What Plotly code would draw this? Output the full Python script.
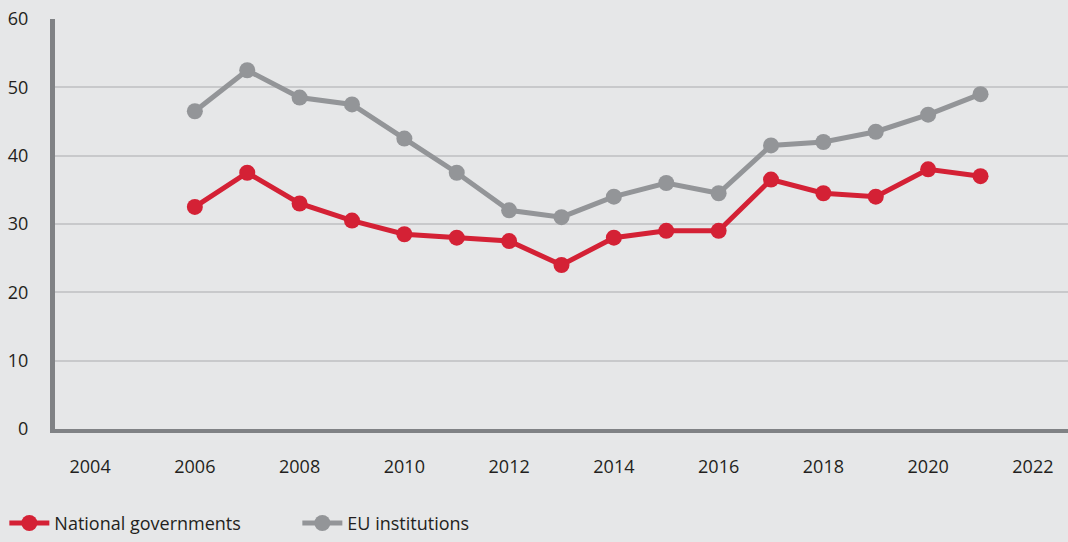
import plotly.graph_objects as go

years = list(range(2006, 2022))
national_governments = [32.5, 37.5, 33, 30.5, 28.5, 28, 27.5, 24, 28, 29, 29, 36.5, 34.5, 34, 38, 37]
eu_institutions = [46.5, 52.5, 48.5, 47.5, 42.5, 37.5, 32, 31, 34, 36, 34.5, 41.5, 42, 43.5, 46, 49]

x_ticks = list(range(2004, 2023, 2))
y_ticks = [0, 10, 20, 30, 40, 50, 60]

RED = "#d42135"
GREY = "#939598"
BG = "#e6e7e8"

fig = go.Figure()
fig.add_trace(go.Scatter(
    x=years, y=national_governments, mode="lines+markers", name="National governments",
    line=dict(color=RED, width=5), marker=dict(color=RED, size=16)
))
fig.add_trace(go.Scatter(
    x=years, y=eu_institutions, mode="lines+markers", name="EU institutions",
    line=dict(color=GREY, width=5), marker=dict(color=GREY, size=16)
))

fig.update_layout(
    width=1068, height=542,
    paper_bgcolor=BG, plot_bgcolor=BG,
    margin=dict(l=55, r=0, t=19, b=110),
    font=dict(family="Open Sans, sans-serif", size=18, color="#231f20"),
    legend=dict(orientation="h", x=-0.05, xanchor="left", y=-0.23, yanchor="middle",
                bgcolor="rgba(0,0,0,0)", font=dict(size=18), itemwidth=40,
                entrywidth=238, tracegroupgap=0),
    showlegend=True,
)
fig.update_xaxes(
    range=[2003.33, 2022.67], tickvals=x_ticks, showgrid=False,
    showline=True, linecolor="#808285", linewidth=4, zeroline=False,
    ticks="", ticklabelstandoff=18,
)
fig.update_yaxes(
    range=[0, 60], tickvals=y_ticks, showgrid=True, gridcolor="#c8c9cb", gridwidth=2,
    showline=True, linecolor="#808285", linewidth=5, zeroline=False,
    ticks="", ticklabelstandoff=18,
)

fig.write_html("out.html", config={"displayModeBar": False},
               post_script="document.body.style.margin='0';document.body.style.overflow='hidden';")
